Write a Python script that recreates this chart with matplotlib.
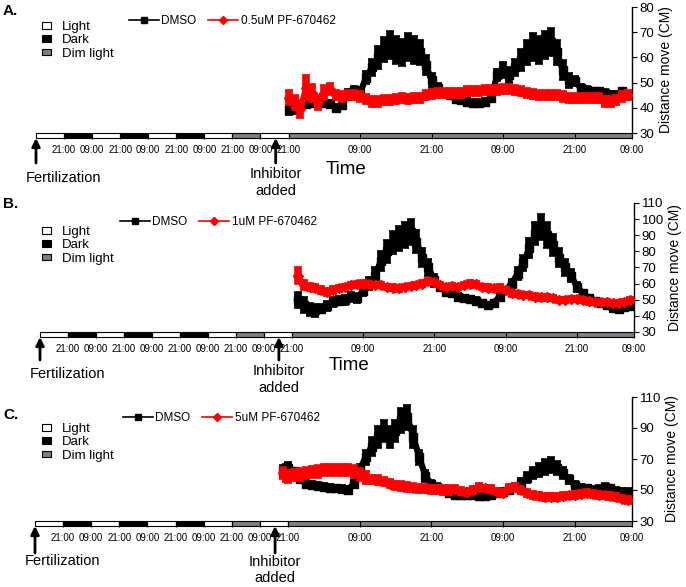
import numpy as np
import matplotlib
matplotlib.use('Agg')
import matplotlib.pyplot as plt
from matplotlib.patches import Rectangle, Patch
from matplotlib.lines import Line2D

plt.rcParams['font.family'] = ['Liberation Sans', 'DejaVu Sans']

# ------------------------------------------------------------------ data
light_blocks = ['Light', 'Dark', 'Light', 'Dark', 'Light', 'Dark', 'Light', 'Dim', 'Light', 'Dim']
block_hours = 12
clock_labels_pre = ['21:00', '09:00', '21:00', '09:00', '21:00', '09:00', '21:00', '09:00', '21:00']
clock_labels_post = ['09:00', '21:00', '09:00', '21:00', '09:00']
recording_start = 108      # h after fertilization (21:00)
recording_span = 57.6      # h of recording shown
inhibitor_added = 102.5    # h after fertilization

panel_titles = ['A.', 'B.', 'C.']
drug_labels = ['0.5uM PF-670462', '1uM PF-670462', '5uM PF-670462']
y_limits = [(30, 80), (30, 110), (30, 110)]
y_steps = [10, 10, 20]
first_hour = [0, 1, -2]    # first sample, hours after recording start

a_dmso = [39, 39.5, 41, 41.5, 42, 42, 42, 41.5, 40, 41,
          46, 47, 46, 52, 56, 60, 63, 65, 63, 62,
          64, 63, 62, 57, 51, 48, 46, 45, 43.5, 43,
          42.5, 42, 42, 42.5, 44, 53, 55, 53, 56, 59,
          62, 64, 63, 65, 66, 62, 55, 51, 50.5, 48,
          47, 46.5, 46.5, 46, 45, 45, 46.5, 45]
a_dmso_err = [2, 2, 1.5, 1.5, 1.5, 1.5, 1.5, 1.5, 1.5, 1.5, 1.5, 1.5, 1.5,
              2.5, 3.5, 4.5, 5, 5.5, 5.5, 5.5, 5.5, 5.5, 5, 4,
              3, 2, 1.5, 1.5, 1.5, 1.5, 1.5, 1.5, 1.5, 1.5, 1.5,
              2.5, 3, 3, 3.5, 4.5, 5, 5.5, 5.5, 5.5, 5.5, 5, 4, 3,
              2, 1.5, 1.5, 1.5, 1.5, 1.5, 1.5, 1.5, 1.5, 1.5]
a_drug = [44, 42, 39.5, 48, 46, 42, 46, 47.5, 45, 44.5,
          45, 45, 44.5, 43.5, 42.5, 42.5, 43, 43, 43.5, 44,
          43.5, 44, 44, 45, 45.5, 46, 46, 46, 46, 46,
          46.5, 46.5, 46.5, 47, 47, 47, 47.5, 47.5, 47, 46.5,
          46, 45.5, 45, 45, 45, 45, 44.5, 44, 44, 44,
          44, 44, 44, 42.5, 42.5, 43, 44.5, 45]
a_drug_err = [3, 3, 3.5, 5, 3.5, 3, 3, 2.5, 2, 2,
              2, 2, 2, 2, 2, 2, 2, 2, 2, 2,
              2, 2, 2, 2, 2, 2, 2, 2, 2, 2,
              2, 2, 2, 2, 2, 2, 2, 2, 2, 2,
              2, 2, 2, 2, 2, 2, 2, 2, 2, 2,
              2, 2, 2, 2, 2, 2, 2, 2]

b_dmso = [50, 46.5, 44, 43.5, 44.5, 46, 48.5, 49.5, 50, 51.5,
          51, 55.5, 60, 65, 74, 80, 85.5, 88, 90, 92,
          86, 76, 70, 62, 58, 55, 54, 52, 51, 50.5,
          49.5, 48, 46.5, 48, 52, 56, 60, 66, 73, 82,
          91, 95, 90, 84, 76, 70, 65, 58, 54, 51,
          49, 48, 47, 45, 44.5, 45.5, 46]
b_dmso_err = [5, 5, 4, 4, 3, 3, 3, 3, 3, 3, 3, 3,
              4, 5, 6, 7, 7, 8, 8, 8, 7, 6, 5, 4,
              2, 2, 2, 2, 2, 2, 2, 2, 2, 2, 2, 2,
              3, 4, 5, 6, 7, 8, 8, 7, 6, 5, 4, 3, 2,
              2, 2, 2, 2, 2, 2, 2, 2]
b_drug = [65, 59, 58, 57.5, 56, 55, 56, 57, 58, 59,
          59.5, 60, 59.5, 59, 59, 58, 57.5, 57, 58, 58.5,
          59, 60, 61.5, 61, 59, 58, 58.5, 58, 59, 60,
          59.5, 58, 57.5, 57, 57.5, 56, 54, 53.5, 53, 53,
          52, 51.5, 51.5, 51, 50, 50, 50.5, 50.5, 50, 49,
          48.5, 48.5, 48.5, 48, 48, 48.5, 50]
b_drug_err = [5, 3, 2.5, 2.5, 2.5, 2.5, 2.5, 2, 2, 2,
              2, 2, 2, 2, 2, 2, 2, 2, 2, 2,
              2, 2, 2, 2, 2, 2, 2, 2, 2, 2,
              2, 2, 2, 2, 2, 2, 2, 2, 2, 2,
              2, 2, 2, 2, 2, 2, 2, 2, 2, 2,
              2, 2, 2, 2, 2, 2, 2]

c_dmso = [62, 63, 64, 62, 57, 54, 53, 52.5, 52, 51.5,
          51, 50.5, 50, 54, 63, 71, 78, 84, 88, 84,
          88, 95, 97, 84, 71, 59, 54, 52, 50, 48,
          47, 47, 47, 46.5, 46, 46, 47, 48, 49, 50,
          52, 54.5, 58, 61, 63, 65, 66, 64, 61, 57,
          53, 51.5, 51, 50, 50.5, 52, 51, 49.5, 49, 48.5]
c_dmso_err = [4, 4, 4,
              2.5, 2.5, 2.5, 2.5, 2.5, 2.5, 2.5, 2.5, 2.5, 2.5, 2.5,
              4, 5, 6, 7, 7, 7, 7, 8, 8, 7, 5, 4,
              2.5, 2.5, 2.5, 2.5, 2.5, 2.5, 2.5, 2.5, 2.5, 2.5, 2.5, 2.5, 2.5, 2.5, 2.5,
              3, 3.5, 4, 4.5, 5, 5, 4.5, 4, 3,
              2.5, 2.5, 2.5, 2.5, 2.5, 2.5, 2.5, 2.5, 2.5, 2.5]
c_drug = [61, 59, 58.5, 59.5, 60, 61, 61.5, 62, 63, 63,
          63, 63, 63, 62, 60, 58, 57, 56.5, 55.5, 54,
          53, 52.5, 52, 51.5, 51, 51, 50.5, 50.5, 50, 50,
          50.5, 49.5, 48.5, 50, 52, 51, 50.5, 49, 48, 51.5,
          52, 50, 48, 47, 46, 45.5, 45.5, 45.5, 46, 46.5,
          47, 47.5, 48, 47.5, 47, 46.5, 46, 45.5, 44.5, 43.5]
c_drug_err = [4, 4, 4, 4, 4, 4, 4, 4, 4, 4, 4, 4, 4, 4, 4, 4,
              3, 3, 3, 3, 3, 3, 3, 3, 3, 3, 3, 3, 3, 3,
              2.5, 2.5, 2.5, 2.5, 2.5, 2.5, 2.5, 2.5, 2.5, 2.5,
              2.5, 2.5, 2.5, 2.5, 2.5, 2.5, 2.5, 2.5, 2.5, 2.5,
              2.5, 2.5, 2.5, 2.5, 2.5, 2.5, 2.5, 2.5, 2.5, 2.5]

dmso = [a_dmso, b_dmso, c_dmso]
dmso_err = [a_dmso_err, b_dmso_err, c_dmso_err]
drug = [a_drug, b_drug, c_drug]
drug_err = [a_drug_err, b_drug_err, c_drug_err]

# ------------------------------------------------------------------ layout / style
W, H = 686, 587
block_colors = {'Light': 'white', 'Dark': 'black', 'Dim': '#808080'}
STRETCH = 2.55          # recording period drawn wider than pre-recording period
axes_px = [(36, 7, 632, 133), (40, 203, 634, 332), (35, 397, 632, 521)]
letter_px = [(3, 11), (3, 204), (3, 415)]
box_leg_px = [(42, 21), (42, 226), (42, 423)]
ser_leg_px = [(129, 15), (120, 216), (123, 412)]
fert_text_dy = [45, 42, 40]
inhib_text_dy = [49.5, 47.5, 49]
arrow_tail_dy = [30, 28, 32]
time_dy = [36, 33, None]
BAR_PX = 4.5


def fwd(T):
    T = np.asarray(T, dtype=float)
    return np.where(T <= recording_start, T, recording_start + (T - recording_start) * STRETCH)


def inv(u):
    u = np.asarray(u, dtype=float)
    return np.where(u <= recording_start, u, recording_start + (u - recording_start) / STRETCH)


fig = plt.figure(figsize=(W / 100, H / 100), dpi=100)

x_end = recording_start + recording_span
pre_ticks = [block_hours * (k + 1) for k in range(len(clock_labels_pre))]
post_ticks = [recording_start + block_hours * (k + 1) for k in range(len(clock_labels_post) - 1)] + [x_end]

for i in range(3):
    l, t, r, b = axes_px[i]
    ax = fig.add_axes([l / W, 1 - b / H, (r - l) / W, (b - t) / H])
    ax.set_xscale('function', functions=(fwd, inv))
    ax.set_xlim(0, x_end)
    ax.set_ylim(*y_limits[i])

    T = recording_start + first_hour[i] + np.arange(len(dmso[i]))
    ax.errorbar(T, dmso[i], yerr=dmso_err[i], fmt='-s', color='black', ms=6, lw=4.5,
                elinewidth=5.5, capsize=3.2, capthick=1.2, zorder=3)
    ax.errorbar(T, drug[i], yerr=drug_err[i], fmt='-D', color='red', ms=5.5, lw=4.5,
                elinewidth=5.5, capsize=3.2, capthick=1.2, zorder=4)

    # light regime bar
    trans = ax.get_xaxis_transform()
    h = BAR_PX / ax.bbox.height
    starts = [block_hours * k for k in range(len(light_blocks))]
    ends = [block_hours * (k + 1) for k in range(len(light_blocks) - 1)] + [x_end]
    for s, e, kind in zip(starts, ends, light_blocks):
        ax.add_patch(Rectangle((s, -h), e - s, h, transform=trans, facecolor=block_colors[kind],
                               edgecolor='black', lw=0.8, clip_on=False, zorder=1))

    ax.set_xticks(pre_ticks + post_ticks)
    ax.set_xticklabels(clock_labels_pre + clock_labels_post)
    ax.tick_params(axis='x', direction='out', length=4.3, width=0.8, labelsize=7, pad=4)

    for sp in ['left', 'top', 'bottom']:
        ax.spines[sp].set_visible(False)
    ax.spines['right'].set_linewidth(1)
    ax.yaxis.tick_right()
    ax.yaxis.set_label_position('right')
    lo, hi = y_limits[i]
    ax.set_yticks(np.arange(lo, hi + 1, y_steps[i]))
    ax.tick_params(axis='y', direction='out', length=3.5, width=0.8, labelsize=9.5, pad=2)
    ax.set_ylabel('Distance move (CM)', fontsize=10, labelpad=3)

    # arrows and annotations
    for xT in (0, inhibitor_added):
        ax.annotate('', xy=(xT, 0), xycoords=trans,
                    xytext=(0, -arrow_tail_dy[i]), textcoords='offset pixels',
                    arrowprops=dict(arrowstyle='-|>', lw=2, color='black',
                                    shrinkA=0, shrinkB=3.6, mutation_scale=12))
    ax.annotate('Fertilization', xy=(0, 0), xycoords=trans, xytext=(-10, -fert_text_dy[i]),
                textcoords='offset pixels', ha='left', va='center', fontsize=10.5,
                annotation_clip=False)
    ax.annotate('Inhibitor\nadded', xy=(inhibitor_added, 0), xycoords=trans,
                xytext=(0, -inhib_text_dy[i]), textcoords='offset pixels', ha='center',
                va='center', fontsize=10.5, linespacing=1.2, annotation_clip=False)
    if time_dy[i] is not None:
        ax.annotate('Time', xy=(0.52, 0), xycoords='axes fraction', xytext=(0, -time_dy[i]),
                    textcoords='offset pixels', ha='center', va='center', fontsize=13.5)

    # letters and legends
    lx, ly = letter_px[i]
    fig.text(lx / W, 1 - ly / H, panel_titles[i], fontsize=11, fontweight='bold',
             ha='left', va='center')
    box_handles = [Patch(facecolor=block_colors[k], edgecolor='black', lw=0.8)
                   for k in ['Light', 'Dark', 'Dim']]
    bx, by = box_leg_px[i]
    fig.legend(box_handles, ['Light', 'Dark', 'Dim light'], loc='upper left',
               bbox_to_anchor=(bx / W, 1 - by / H), frameon=False, fontsize=9.5,
               handlelength=0.65, handleheight=0.4, handletextpad=0.85,
               labelspacing=0.1, borderpad=0, borderaxespad=0)
    ser_handles = [Line2D([], [], color='black', marker='s', ms=5, lw=1.2),
                   Line2D([], [], color='red', marker='D', ms=4, lw=1.2)]
    sx, sy = ser_leg_px[i]
    fig.legend(ser_handles, ['DMSO', drug_labels[i]], ncol=2, loc='upper left',
               bbox_to_anchor=(sx / W, 1 - sy / H), frameon=False, fontsize=8.5,
               handlelength=2.5, handletextpad=0.25, columnspacing=1.0,
               borderpad=0, borderaxespad=0)

fig.savefig('out.png', dpi=100)
